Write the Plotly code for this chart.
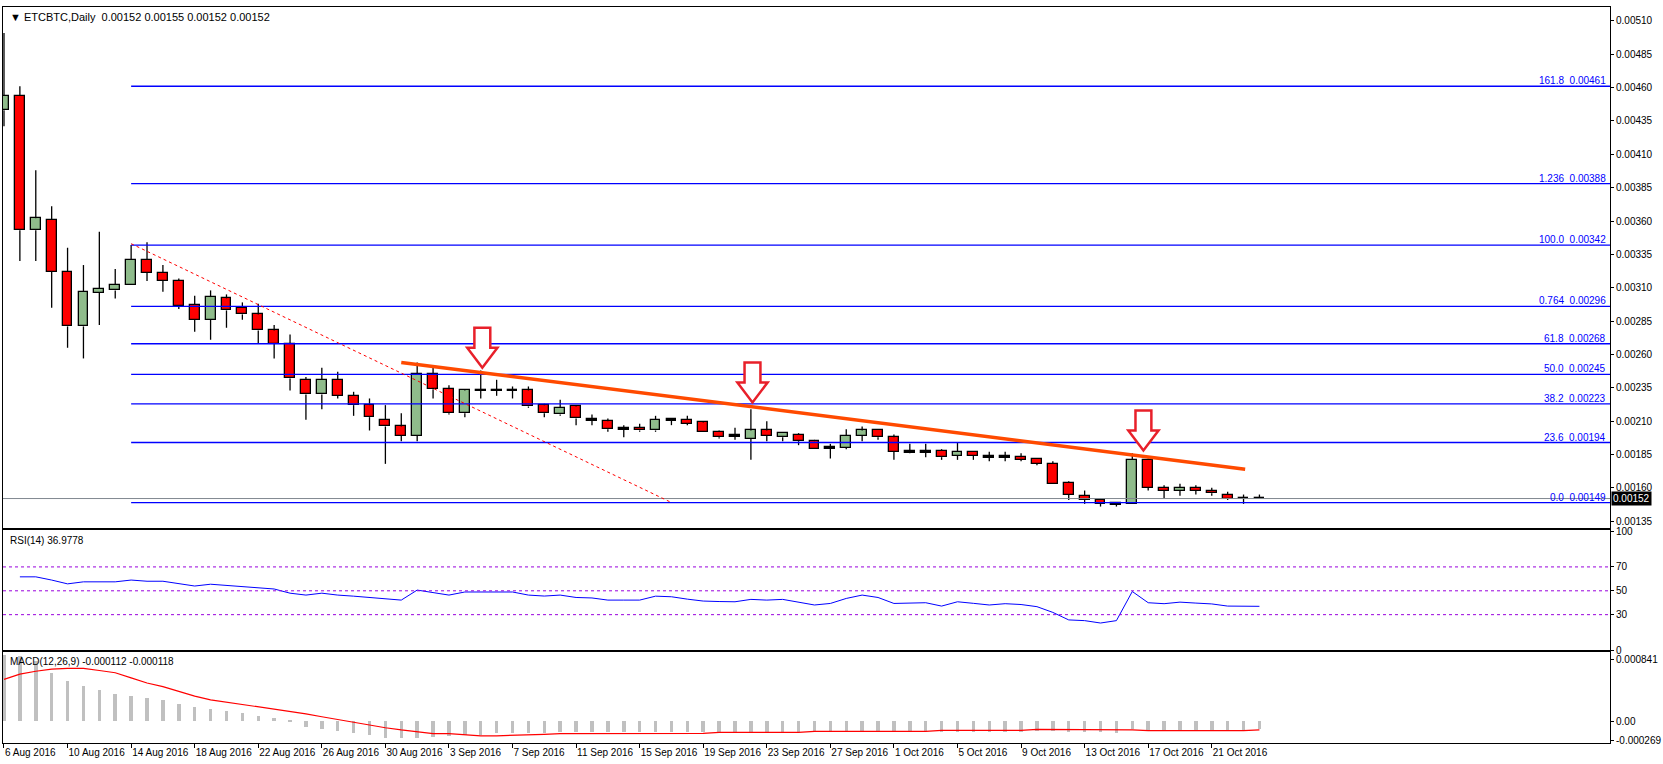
import plotly.graph_objects as go
import pandas as pd

dates = pd.date_range("2016-08-06", periods=80, freq="D")
opens = [0.00443,0.00454,0.00353,0.00361,0.00322,0.00281,0.00306,0.00308,0.00312,0.00331,
         0.00321,0.00315,0.00297,0.00286,0.00302,0.00295,0.00290,0.00278,0.00268,0.00241,
         0.00230,0.00241,0.00229,0.00222,0.00211,0.00206,0.00199,0.00245,0.00234,0.00216,
         0.00234,0.00233,0.00234,0.00233,0.00222,0.00215,0.00221,0.00211,0.00210,0.00204,
         0.00205,0.00203,0.00211,0.00211,0.00209,0.00202,0.00199,0.00197,0.00203,0.00198,
         0.00200,0.00195,0.00190,0.00190,0.00199,0.00203,0.00198,0.00187,0.00187,0.00188,
         0.00184,0.00187,0.00183,0.00183,0.00183,0.00182,0.00178,0.00164,0.00154,0.00151,
         0.00148,0.00148,0.00181,0.00160,0.00158,0.00160,0.00158,0.00155,0.00152,0.00152]
highs = [0.00501,0.00461,0.00398,0.00371,0.00340,0.00327,0.00352,0.00324,0.00342,0.00344,
         0.00327,0.00317,0.00304,0.00308,0.00305,0.00299,0.00298,0.00282,0.00275,0.00243,
         0.00250,0.00247,0.00232,0.00227,0.00222,0.00216,0.00254,0.00251,0.00237,0.00234,
         0.00248,0.00241,0.00236,0.00236,0.00223,0.00226,0.00222,0.00215,0.00212,0.00207,
         0.00208,0.00214,0.00212,0.00214,0.00210,0.00203,0.00205,0.00219,0.00210,0.00201,
         0.00201,0.00196,0.00193,0.00204,0.00206,0.00203,0.00200,0.00193,0.00193,0.00189,
         0.00194,0.00187,0.00187,0.00187,0.00186,0.00182,0.00180,0.00165,0.00158,0.00152,
         0.00149,0.00186,0.00182,0.00162,0.00163,0.00162,0.00160,0.00157,0.00155,0.00155]
lows = [0.00431,0.00330,0.00330,0.00295,0.00265,0.00257,0.00282,0.00302,0.00312,0.00315,
        0.00307,0.00294,0.00277,0.00271,0.00280,0.00286,0.00268,0.00257,0.00233,0.00211,
        0.00219,0.00227,0.00214,0.00203,0.00178,0.00195,0.00195,0.00227,0.00215,0.00213,
        0.00227,0.00229,0.00227,0.00220,0.00213,0.00214,0.00207,0.00207,0.00202,0.00198,
        0.00202,0.00202,0.00207,0.00207,0.00202,0.00197,0.00196,0.00181,0.00195,0.00195,
        0.00192,0.00189,0.00182,0.00189,0.00195,0.00196,0.00181,0.00186,0.00183,0.00181,
        0.00181,0.00181,0.00180,0.00180,0.00180,0.00177,0.00163,0.00151,0.00148,0.00146,
        0.00146,0.00148,0.00158,0.00152,0.00154,0.00155,0.00154,0.00151,0.00148,0.00152]
closes = [0.00454,0.00353,0.00362,0.00322,0.00281,0.00307,0.00309,0.00312,0.00331,0.00321,
          0.00315,0.00296,0.00286,0.00303,0.00293,0.00290,0.00278,0.00268,0.00242,0.00230,
          0.00241,0.00229,0.00222,0.00213,0.00206,0.00199,0.00245,0.00234,0.00216,0.00233,
          0.00233,0.00234,0.00233,0.00221,0.00216,0.00220,0.00212,0.00211,0.00204,0.00204,
          0.00203,0.00211,0.00211,0.00208,0.00202,0.00198,0.00199,0.00203,0.00199,0.00201,
          0.00195,0.00189,0.00190,0.00199,0.00203,0.00198,0.00187,0.00187,0.00187,0.00183,
          0.00187,0.00184,0.00183,0.00183,0.00181,0.00178,0.00163,0.00155,0.00151,0.00148,
          0.00148,0.00181,0.00160,0.00158,0.00160,0.00158,0.00156,0.00152,0.00152,0.00152]

rsi = [None,61.7,61.7,59,55.8,57.5,57.5,57.5,59,58,58,56,54,55.5,54.5,53,52.5,51.5,48,46.4,
       48,46.4,45.5,44.5,43,42.2,50.6,48.5,46.4,49,49,49,49,46.4,45.6,46.4,44.4,44,42.2,42.2,
       42.2,45.5,45,43,41.4,41,40.8,42.8,42.2,42.8,40.5,38.1,39.4,43.6,46.4,44.4,39.4,40,40,37.2,
       40.8,39.5,38.1,39.2,38.5,36.7,31.9,25.6,25,23,25,49.4,40,39.2,40.5,39.7,39,37.2,37,37]

macd_hist = [0.00090,0.00088,0.00082,0.00065,0.00054,0.00047,0.00042,0.00037,0.00034,0.00031,
             0.00028,0.00023,0.00019,0.00016,0.00013,0.00011,0.00007,0.00004,-0.00002,-0.00008,
             -0.00011,-0.00014,-0.00017,-0.00020,-0.00023,-0.00024,-0.00023,-0.00022,-0.00021,-0.00019,
             -0.00019,-0.00017,-0.00017,-0.00017,-0.00017,-0.00016,-0.00016,-0.00016,-0.00016,-0.00016,
             -0.00016,-0.00016,-0.00016,-0.00016,-0.00016,-0.00016,-0.00016,-0.00016,-0.00016,-0.00016,
             -0.00016,-0.00016,-0.00016,-0.00016,-0.00016,-0.00016,-0.00016,-0.00016,-0.00016,-0.00016,
             -0.00016,-0.00016,-0.00016,-0.00016,-0.00015,-0.00014,-0.00014,-0.00015,-0.00016,-0.00016,
             -0.00017,-0.00012,-0.00013,-0.00013,-0.00013,-0.00013,-0.00013,-0.00013,-0.00013,-0.000112]
macd_signal = [0.00057,0.00064,0.00068,0.00071,0.00072,0.00072,0.00069,0.00066,0.00059,0.00052,
               0.00047,0.00040,0.00034,0.00029,0.00026,0.00022,0.00019,0.00016,0.00013,0.00010,
               0.00006,0.00002,-0.00001,-0.00005,-0.00009,-0.00012,-0.00015,-0.00017,-0.00017,-0.00019,
               -0.00020,-0.00020,-0.00019,-0.00019,-0.00018,-0.00017,-0.00017,-0.00017,-0.000167,-0.000167,
               -0.000167,-0.000167,-0.000167,-0.000167,-0.000167,-0.000153,-0.000153,-0.000153,-0.000153,-0.000153,
               -0.000153,-0.00014,-0.00014,-0.00014,-0.00014,-0.00014,-0.00014,-0.00014,-0.00014,-0.000127,
               -0.000127,-0.000127,-0.000127,-0.000127,-0.000127,-0.000113,-0.000113,-0.000113,-0.000113,-0.00012,
               -0.00012,-0.00012,-0.00013,-0.00013,-0.00013,-0.00013,-0.00013,-0.00013,-0.00013,-0.000118]

fib_names = ["161.8", "1.236", "100.0", "0.764", "61.8", "50.0", "38.2", "23.6", "0.0"]
fib_levels = [0.00461, 0.00388, 0.00342, 0.00296, 0.00268, 0.00245, 0.00223, 0.00194, 0.00149]
fib_start_day = 8
current_price = 0.00152
trend_pts = [(25, 0.00254), (78.1, 0.00174)]
dotted_pts = [(8, 0.00343), (42, 0.00149)]
arrow_tips = [(30.1, 0.00250), (47.1, 0.00224), (71.7, 0.00188)]
price_ticks = [0.00135 + 0.00025 * i for i in range(16)]

FONT = "Liberation Sans"
FS = 10
YFS = 10
x = list(range(len(dates)))
tick_idx = list(range(0, 80, 4))
tick_txt = [f"{dates[i].day} {dates[i].strftime('%b %Y')}" for i in tick_idx]

fig = go.Figure()

wx, wy = [], []
for i in x:
    top, bot = max(opens[i], closes[i]), min(opens[i], closes[i])
    wx += [i, i, None, i, i, None]
    wy += [highs[i], top, None, bot, lows[i], None]
fig.add_trace(go.Scatter(x=wx, y=wy, mode="lines", line=dict(color="black", width=1.3),
                         hoverinfo="skip", showlegend=False, xaxis="x", yaxis="y"))

base, hgt, cols = [], [], []
for i in x:
    o, c = opens[i], closes[i]
    if c > o:
        cols.append("#8fbc8b")
    elif c < o:
        cols.append("#ff0000")
    else:
        cols.append("black")
    b, h = min(o, c), abs(c - o)
    if h < 0.000012:
        b, h = b - 0.000006, 0.000012
    base.append(b)
    hgt.append(h)
fig.add_trace(go.Bar(x=x, y=hgt, base=base, width=0.62, marker=dict(color=cols, line=dict(color="black", width=1.3)),
                     showlegend=False, xaxis="x", yaxis="y"))

fig.add_trace(go.Scatter(x=[-1, 102], y=[current_price, current_price], mode="lines",
                         line=dict(color="#808890", width=1), showlegend=False, xaxis="x", yaxis="y"))
fx, fy = [], []
for lv in fib_levels:
    fx += [fib_start_day, 102, None]
    fy += [lv, lv, None]
fig.add_trace(go.Scatter(x=fx, y=fy, mode="lines", line=dict(color="#0000ff", width=1.3),
                         showlegend=False, xaxis="x", yaxis="y"))
fig.add_trace(go.Scatter(x=[p[0] for p in dotted_pts], y=[p[1] for p in dotted_pts], mode="lines",
                         line=dict(color="#ff0000", width=1, dash="dot"), showlegend=False, xaxis="x", yaxis="y"))
fig.add_trace(go.Scatter(x=[p[0] for p in trend_pts], y=[p[1] for p in trend_pts], mode="lines",
                         line=dict(color="#ff4a00", width=3.5), showlegend=False, xaxis="x", yaxis="y"))

fig.add_trace(go.Scatter(x=x, y=rsi, mode="lines", line=dict(color="#0000ff", width=1),
                         showlegend=False, xaxis="x2", yaxis="y2"))
fig.add_trace(go.Bar(x=x, y=macd_hist, width=0.22, marker=dict(color="#c0c0c0", line=dict(width=0)),
                     showlegend=False, xaxis="x3", yaxis="y3"))
fig.add_trace(go.Scatter(x=x, y=macd_signal, mode="lines", line=dict(color="#ff0000", width=1.2),
                         showlegend=False, xaxis="x3", yaxis="y3"))

shapes = []
for lv in [70, 50, 30]:
    shapes.append(dict(type="line", xref="x2 domain", x0=0, x1=1, yref="y2", y0=lv, y1=lv,
                       line=dict(color="#9900dd", width=1, dash="dot")))
for tx, ty in arrow_tips:
    hw, sw = 0.95, 0.5
    sh, top = ty + 0.000150, ty + 0.000300
    path = (f"M {tx-sw},{top} L {tx+sw},{top} L {tx+sw},{sh} L {tx+hw},{sh} L {tx},{ty} "
            f"L {tx-hw},{sh} L {tx-sw},{sh} Z")
    shapes.append(dict(type="path", xref="x", yref="y", path=path, fillcolor="white",
                       line=dict(color="#e8202a", width=2.5)))

ann = [
    dict(text="▼ ETCBTC,Daily  0.00152 0.00155 0.00152 0.00152", xref="paper", yref="paper",
         x=0.003, y=0.997, xanchor="left", yanchor="top", showarrow=False, font=dict(size=11, color="black", family=FONT)),
    dict(text="RSI(14) 36.9778", xref="x2 domain", yref="y2 domain", x=0.003, y=0.98,
         xanchor="left", yanchor="top", showarrow=False, font=dict(size=FS, color="black", family=FONT)),
    dict(text="MACD(12,26,9) -0.000112 -0.000118", xref="x3 domain", yref="y3 domain", x=0.003, y=0.98,
         xanchor="left", yanchor="top", showarrow=False, font=dict(size=FS, color="black", family=FONT)),
    dict(text=f"{current_price:.5f}", xref="x domain", yref="y", x=1, y=current_price, xanchor="left",
         xshift=1, showarrow=False, bgcolor="black", font=dict(size=YFS, color="white", family=FONT), borderpad=1),
]
for nm, lv in zip(fib_names, fib_levels):
    ann.append(dict(text=f"{nm}  {lv:.5f}", xref="x domain", yref="y", x=1, y=lv, xanchor="right",
                    yanchor="bottom", xshift=-2, yshift=-2, showarrow=False,
                    font=dict(size=FS, color="#0000ff", family=FONT)))

axis_common = dict(showgrid=False, zeroline=False, showline=True, linecolor="black", linewidth=1, mirror=True)
xr = [-0.0625, 101.06]
yt = dict(ticks="outside", ticklen=3, tickcolor="black", tickfont=dict(size=YFS))
fig.update_layout(
    width=1663, height=764, margin=dict(l=2, r=43, t=3, b=21),
    plot_bgcolor="white", paper_bgcolor="white", bargap=0, barmode="overlay",
    font=dict(family=FONT, size=FS, color="black"),
    shapes=shapes, annotations=ann,
    xaxis=dict(domain=[0, 1], range=xr, showticklabels=False, ticks="", anchor="y", **axis_common),
    xaxis2=dict(domain=[0, 1], range=xr, showticklabels=False, ticks="", anchor="y2", matches="x", **axis_common),
    xaxis3=dict(domain=[0, 1], range=xr, anchor="y3", matches="x", tickvals=tick_idx, ticktext=tick_txt,
                ticks="outside", ticklen=4, tickcolor="black", ticklabelposition="outside right",
                tickangle=0, tickfont=dict(size=FS), **axis_common),
    yaxis=dict(domain=[0.2919, 1], range=[0.001298, 0.005204], side="right", tickvals=price_ticks,
               tickformat=".5f", anchor="x", **yt, **axis_common),
    yaxis2=dict(domain=[0.1257, 0.2892], range=[0, 100.8], side="right", tickvals=[0, 30, 50, 70, 100],
                anchor="x2", **yt, **axis_common),
    yaxis3=dict(domain=[0, 0.123], range=[-0.000298, 0.000936], side="right",
                tickvals=[-0.000269, 0, 0.000841], ticktext=["-0.000269", "0.00", "0.000841"],
                anchor="x3", **yt, **axis_common),
)
fig.write_html("out.html", config={"displayModeBar": False},
               post_script="document.body.style.margin='0';document.body.style.overflow='hidden';")
